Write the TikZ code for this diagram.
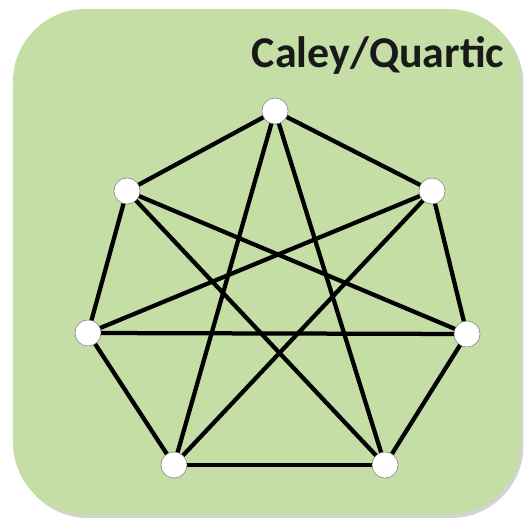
\documentclass[tikz,border=0pt]{standalone}
\usepackage{fontspec}
\setmainfont{Carlito}
\usetikzlibrary{shadows}
\definecolor{panelgreen}{HTML}{C4DEA5}
\tikzset{
  panel/.style={rounded corners=1.45cm, fill=panelgreen, draw=none,
                drop shadow={shadow xshift=0.05cm, shadow yshift=-0.06cm, opacity=0.35}},
  vert/.style={circle, fill=white, draw=black!45, line width=0.3pt,
               minimum size=0.52cm, inner sep=0pt},
  edge/.style={line width=0.085cm, black, line cap=round},
  title/.style={font=\bfseries\fontsize{25}{27}\selectfont, text=black!90},
}
\begin{document}
\begin{tikzpicture}[x=0.02cm, y=-0.02cm]
  \useasboundingbox (0,0) rectangle (529,520);
  %% panel
  \path[panel] (13,9) rectangle (521,515);
  \node[title] (ttl) at (378,56) {Caley/Quartic};
  %% vertices
  \node[vert] (a) at (275,111) {};
  \node[vert] (b) at (127,191) {};
  \node[vert] (c) at (432,191) {};
  \node[vert] (d) at (88,333) {};
  \node[vert] (e) at (467,334) {};
  \node[vert] (f) at (174,465) {};
  \node[vert] (g) at (385,465) {};
  %% edges
  \foreach \u/\v in {a/b,a/c,b/d,c/e,d/f,e/g,f/g,a/f,a/g,b/e,b/g,c/d,c/f,d/e}
    \draw[edge] (\u.center) -- (\v.center);
  %% redraw vertices on top
  \foreach \n in {a,b,c,d,e,f,g}
    \node[vert] at (\n) {};
\end{tikzpicture}
\end{document}
